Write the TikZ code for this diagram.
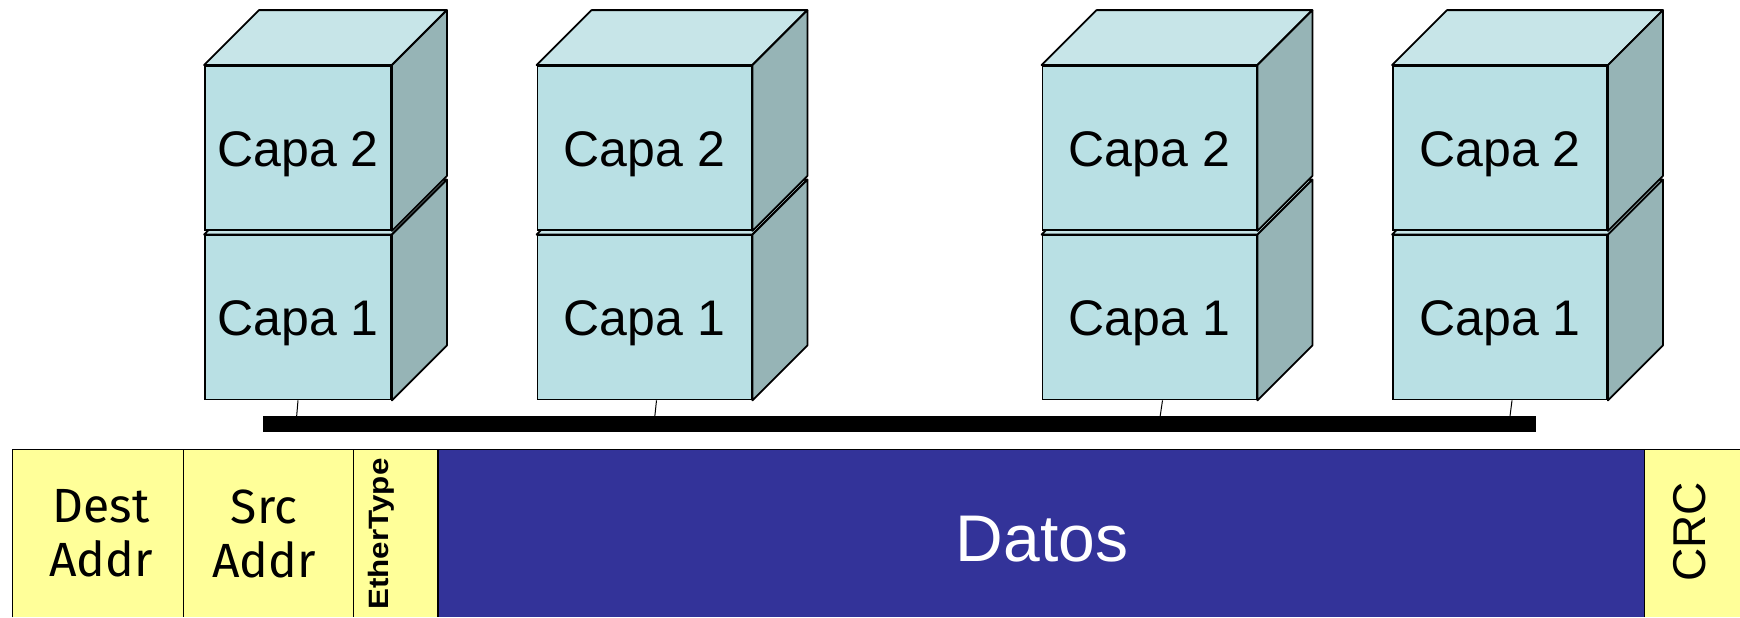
\documentclass[tikz,border=0pt]{standalone}
\usepackage{fontspec}
\setmainfont{Liberation Sans}
\newfontfamily\comic{Fira Sans}
\usetikzlibrary{calc}

\definecolor{cubofrente}{HTML}{B9E0E4}
\definecolor{cubotapa}{HTML}{C7E5E8}
\definecolor{cubolado}{HTML}{96B4B6}
\definecolor{amarillo}{HTML}{FFFF99}
\definecolor{azuldatos}{HTML}{333399}

\tikzset{
		cara/.style={
			draw, fill=cubofrente, line width=0.9pt, inner sep=0pt, minimum height=82pt,
			font=\fontsize{25}{30}\selectfont, text height=18pt, text depth=0pt},
		tapa/.style={draw, fill=cubotapa, line width=0.9pt, line join=round},
		lado/.style={draw, fill=cubolado, line width=0.9pt, line join=round},
		bus/.style={fill=black, minimum width=636.5pt, minimum height=8pt, inner sep=0pt},
		enlace/.style={draw, line width=0.5pt, black},
		campo/.style={fill=amarillo, minimum height=83.5pt, inner sep=0pt},
		marco/.style={draw, line width=0.8pt, black},
		letra/.style={font=\comic\fontsize{24}{27}\selectfont, align=center},
	}
\def\fondo{55}
% cubo: nombre, x, y, ancho, texto
\newcommand{\cubo}[5]{
	\node[cara, minimum width=#4] (#1) at (#2,#3) {#5};
	\draw[tapa] (#1.north west) -- ++(\fondo,-\fondo) -- ([shift={(\fondo,-\fondo)}]#1.north east) -- (#1.north east) -- cycle;
	\draw[lado] (#1.north east) -- ++(\fondo,-\fondo) -- ([shift={(\fondo,-\fondo)}]#1.south east) -- (#1.south east) -- cycle;
}

\begin{document}
\begin{tikzpicture}[
			x=0.5pt, y=-0.5pt]
			\path[use as bounding box] (0,0) rectangle (1740,617);
			% nodos
			\cubo{a1}{298}{317.5}{93pt}{Capa 1}
			\cubo{a2}{298}{148}{93pt}{Capa 2}
			\cubo{b1}{644.5}{317.5}{107pt}{Capa 1}
			\cubo{b2}{644.5}{148}{107pt}{Capa 2}
			\cubo{c1}{1149.5}{317.5}{107pt}{Capa 1}
			\cubo{c2}{1149.5}{148}{107pt}{Capa 2}
			\cubo{d1}{1500}{317.5}{107pt}{Capa 1}
			\cubo{d2}{1500}{148}{107pt}{Capa 2}
			\node[bus] (bus) at (899.5,424) {};
			\draw[enlace] (a1.south) -- ($(a1.south |- bus.center)+(-2,0)$);
			\draw[enlace] ($(b1.south)+(12,0)$) -- ($(b1.south |- bus.center)+(9.5,0)$);
			\draw[enlace] ($(c1.south)+(13,0)$) -- ($(c1.south |- bus.center)+(9.5,0)$);
			\draw[enlace] ($(d1.south)+(12,0)$) -- ($(d1.south |- bus.center)+(9,0)$);
			% trama
			\node[campo, minimum width=85.5pt] (dest) at (98.5,533.5) {};
			\node[campo, minimum width=85pt] (src) at (269,533.5) {};
			\node[campo, minimum width=42.25pt] (etype) at (396.25,533.5) {};
			\node[campo, fill=azuldatos, minimum width=603.25pt] (datos) at (1041.75,533.5) {};
			\node[campo, minimum width=47.5pt] (crc) at (1692.5,533.5) {};
			\draw[marco] (dest.south west) -- (dest.north west) -- (crc.north east);
			\draw[marco] (src.north west) -- (src.south west);
			\draw[marco] (etype.north west) -- (etype.south west);
			\draw[marco] (datos.north west) -- (datos.south west);
			\draw[marco] (crc.north west) -- (crc.south west);
			\node[letra] (tdest) at (101,533.5) {Dest\\Addr};
			\node[letra] (tsrc) at (264,533.5) {Src\\Addr};
			\node[rotate=90, xscale=1.12, font=\bfseries\fontsize{14}{16}\selectfont] (tetype) at (381,534) {EtherType};
			\node[text=white, font=\fontsize{33}{40}\selectfont, text height=23.6pt, text depth=0pt] (tdatos) at (1042,537.7) {Datos};
			\node[rotate=90, font=\fontsize{23}{28}\selectfont] (tcrc) at (1690,532) {CRC};
			\end{tikzpicture}
\end{document}
